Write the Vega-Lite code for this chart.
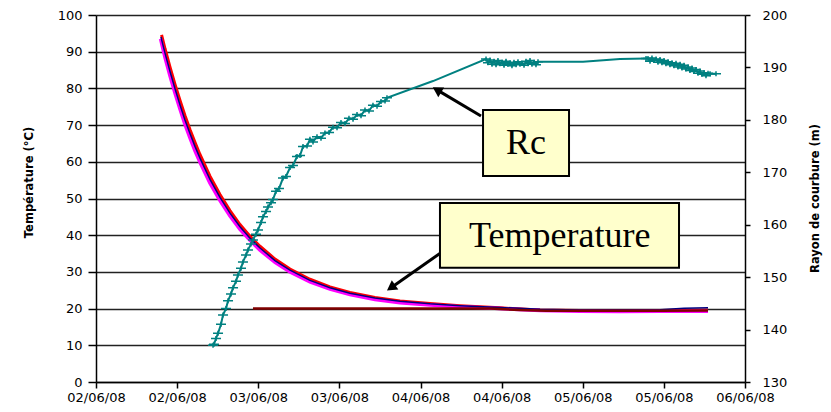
{
  "$schema": "https://vega.github.io/schema/vega-lite/v6.json",
  "width": 649,
  "height": 367,
  "autosize": {"type": "none"},
  "padding": {"left": 96, "top": 15, "right": 86, "bottom": 30},
  "background": "white",
  "config": {
    "view": {"stroke": null},
    "axis": {
      "labelFont": "DejaVu Sans",
      "titleFont": "DejaVu Sans",
      "labelColor": "black",
      "titleColor": "black",
      "domainColor": "black",
      "tickColor": "black",
      "labelFontSize": 13,
      "titleFontSize": 11.5,
      "titleFontWeight": "bold",
      "domainWidth": 1.5,
      "tickWidth": 1.5
    }
  },
  "datasets": {
    "temp": [
      {"s": "red", "h": 9.70, "T": 94.6}, {"s": "red", "h": 10.21, "T": 90.8}, {"s": "red", "h": 10.95, "T": 85.8}, {"s": "red", "h": 11.69, "T": 81.1}, {"s": "red", "h": 12.43, "T": 76.7}, {"s": "red", "h": 13.16, "T": 72.6}, {"s": "red", "h": 13.90, "T": 68.8}, {"s": "red", "h": 14.64, "T": 65.3}, {"s": "red", "h": 15.38, "T": 62.0}, {"s": "red", "h": 16.86, "T": 56.1}, {"s": "red", "h": 18.34, "T": 51.1}, {"s": "red", "h": 19.82, "T": 46.7}, {"s": "red", "h": 21.30, "T": 42.9}, {"s": "red", "h": 22.78, "T": 39.7}, {"s": "red", "h": 24.26, "T": 37.0}, {"s": "red", "h": 26.48, "T": 33.5}, {"s": "red", "h": 28.70, "T": 30.8}, {"s": "red", "h": 31.65, "T": 28.0}, {"s": "red", "h": 34.61, "T": 25.9}, {"s": "red", "h": 37.57, "T": 24.4}, {"s": "red", "h": 41.27, "T": 23.0}, {"s": "red", "h": 44.97, "T": 22.1}, {"s": "red", "h": 49.41, "T": 21.4}, {"s": "red", "h": 53.84, "T": 20.8}, {"s": "red", "h": 59.76, "T": 20.2}, {"s": "red", "h": 65.68, "T": 19.6}, {"s": "red", "h": 71.59, "T": 19.5}, {"s": "red", "h": 77.51, "T": 19.4}, {"s": "red", "h": 83.43, "T": 19.5}, {"s": "red", "h": 90.53, "T": 19.6},
      {"s": "magenta", "h": 9.55, "T": 93.5}, {"s": "magenta", "h": 10.21, "T": 88.4}, {"s": "magenta", "h": 10.95, "T": 83.4}, {"s": "magenta", "h": 11.69, "T": 78.7}, {"s": "magenta", "h": 12.43, "T": 74.3}, {"s": "magenta", "h": 13.16, "T": 70.2}, {"s": "magenta", "h": 13.90, "T": 66.5}, {"s": "magenta", "h": 14.64, "T": 63.0}, {"s": "magenta", "h": 15.38, "T": 59.9}, {"s": "magenta", "h": 16.86, "T": 54.2}, {"s": "magenta", "h": 18.34, "T": 49.4}, {"s": "magenta", "h": 19.82, "T": 45.2}, {"s": "magenta", "h": 21.30, "T": 41.6}, {"s": "magenta", "h": 22.78, "T": 38.6}, {"s": "magenta", "h": 24.26, "T": 35.9}, {"s": "magenta", "h": 26.48, "T": 32.6}, {"s": "magenta", "h": 28.70, "T": 30.0}, {"s": "magenta", "h": 31.65, "T": 27.3}, {"s": "magenta", "h": 34.61, "T": 25.3}, {"s": "magenta", "h": 37.57, "T": 23.8}, {"s": "magenta", "h": 41.27, "T": 22.5}, {"s": "magenta", "h": 44.97, "T": 21.6}, {"s": "magenta", "h": 49.41, "T": 21.0}, {"s": "magenta", "h": 53.84, "T": 20.5}, {"s": "magenta", "h": 59.76, "T": 20.0}, {"s": "magenta", "h": 65.68, "T": 19.5}, {"s": "magenta", "h": 71.59, "T": 19.3}, {"s": "magenta", "h": 77.51, "T": 19.2}, {"s": "magenta", "h": 83.43, "T": 19.3}, {"s": "magenta", "h": 90.53, "T": 19.3},
      {"s": "navy", "h": 9.61, "T": 94.0}, {"s": "navy", "h": 10.21, "T": 89.6}, {"s": "navy", "h": 10.95, "T": 84.6}, {"s": "navy", "h": 11.69, "T": 79.9}, {"s": "navy", "h": 12.43, "T": 75.5}, {"s": "navy", "h": 13.16, "T": 71.4}, {"s": "navy", "h": 13.90, "T": 67.7}, {"s": "navy", "h": 14.64, "T": 64.2}, {"s": "navy", "h": 15.38, "T": 61.0}, {"s": "navy", "h": 16.86, "T": 55.2}, {"s": "navy", "h": 18.34, "T": 50.3}, {"s": "navy", "h": 19.82, "T": 46.0}, {"s": "navy", "h": 21.30, "T": 42.3}, {"s": "navy", "h": 22.78, "T": 39.2}, {"s": "navy", "h": 24.26, "T": 36.5}, {"s": "navy", "h": 26.48, "T": 33.1}, {"s": "navy", "h": 28.70, "T": 30.5}, {"s": "navy", "h": 31.65, "T": 27.7}, {"s": "navy", "h": 34.61, "T": 25.7}, {"s": "navy", "h": 37.57, "T": 24.2}, {"s": "navy", "h": 41.27, "T": 22.9}, {"s": "navy", "h": 44.97, "T": 22.0}, {"s": "navy", "h": 49.41, "T": 21.3}, {"s": "navy", "h": 53.84, "T": 20.8}, {"s": "navy", "h": 59.76, "T": 20.3}, {"s": "navy", "h": 65.68, "T": 19.8}, {"s": "navy", "h": 71.59, "T": 19.6}, {"s": "navy", "h": 77.51, "T": 19.6}, {"s": "navy", "h": 83.43, "T": 19.7}, {"s": "navy", "h": 86.98, "T": 20.1}, {"s": "navy", "h": 90.53, "T": 20.2},
      {"s": "maroon", "h": 23.22, "T": 20.0}, {"s": "maroon", "h": 58.28, "T": 20.0}, {"s": "maroon", "h": 62.72, "T": 19.6}, {"s": "maroon", "h": 66.57, "T": 19.4}, {"s": "maroon", "h": 83.43, "T": 19.4}, {"s": "maroon", "h": 90.53, "T": 19.5}
    ],
    "rc": [
      {"h": 17.31, "Rc": 137.0}, {"h": 17.45, "Rc": 137.2}, {"h": 17.75, "Rc": 138.3}, {"h": 18.05, "Rc": 139.3}, {"h": 18.49, "Rc": 141.0}, {"h": 18.79, "Rc": 142.8}, {"h": 19.23, "Rc": 144.0}, {"h": 19.53, "Rc": 145.5}, {"h": 19.97, "Rc": 146.8}, {"h": 20.27, "Rc": 148.0}, {"h": 20.71, "Rc": 149.2}, {"h": 21.00, "Rc": 150.4}, {"h": 21.45, "Rc": 151.7}, {"h": 21.74, "Rc": 152.9}, {"h": 22.19, "Rc": 154.2}, {"h": 22.48, "Rc": 155.2}, {"h": 22.93, "Rc": 156.3}, {"h": 23.22, "Rc": 157.1}, {"h": 23.67, "Rc": 158.2}, {"h": 23.96, "Rc": 159.0}, {"h": 24.41, "Rc": 160.4}, {"h": 24.70, "Rc": 161.5}, {"h": 25.15, "Rc": 162.5}, {"h": 25.44, "Rc": 163.4}, {"h": 25.89, "Rc": 164.2}, {"h": 26.18, "Rc": 164.8}, {"h": 26.63, "Rc": 166.4}, {"h": 27.07, "Rc": 166.9}, {"h": 27.66, "Rc": 168.9}, {"h": 28.10, "Rc": 169.2}, {"h": 28.70, "Rc": 170.9}, {"h": 29.14, "Rc": 171.3}, {"h": 29.73, "Rc": 173.0}, {"h": 30.18, "Rc": 173.2}, {"h": 30.62, "Rc": 174.9}, {"h": 31.21, "Rc": 175.0}, {"h": 31.65, "Rc": 176.3}, {"h": 32.10, "Rc": 175.8}, {"h": 32.69, "Rc": 176.8}, {"h": 33.28, "Rc": 176.5}, {"h": 33.87, "Rc": 177.5}, {"h": 34.47, "Rc": 177.6}, {"h": 35.06, "Rc": 178.6}, {"h": 35.65, "Rc": 178.5}, {"h": 36.24, "Rc": 179.5}, {"h": 36.83, "Rc": 179.3}, {"h": 37.42, "Rc": 180.3}, {"h": 38.02, "Rc": 180.1}, {"h": 38.61, "Rc": 181.0}, {"h": 39.20, "Rc": 180.8}, {"h": 39.79, "Rc": 181.9}, {"h": 40.38, "Rc": 181.7}, {"h": 40.97, "Rc": 182.8}, {"h": 41.57, "Rc": 182.6}, {"h": 42.16, "Rc": 183.5}, {"h": 42.75, "Rc": 183.6}, {"h": 43.04, "Rc": 184.2},
      {"h": 49.85, "Rc": 187.4},
      {"h": 57.69, "Rc": 191.6}, {"h": 57.98, "Rc": 190.9}, {"h": 58.28, "Rc": 191.4}, {"h": 58.58, "Rc": 190.6}, {"h": 58.87, "Rc": 191.2}, {"h": 59.17, "Rc": 190.5}, {"h": 59.46, "Rc": 191.3}, {"h": 59.76, "Rc": 190.7}, {"h": 60.06, "Rc": 191.0}, {"h": 60.35, "Rc": 190.4}, {"h": 60.65, "Rc": 191.2}, {"h": 60.94, "Rc": 190.6}, {"h": 61.24, "Rc": 190.9}, {"h": 61.53, "Rc": 190.3}, {"h": 61.83, "Rc": 191.0}, {"h": 62.13, "Rc": 190.5}, {"h": 62.42, "Rc": 191.1}, {"h": 62.72, "Rc": 190.6}, {"h": 63.01, "Rc": 190.8}, {"h": 63.31, "Rc": 190.4}, {"h": 63.61, "Rc": 191.2}, {"h": 63.90, "Rc": 190.7}, {"h": 64.20, "Rc": 191.3}, {"h": 64.49, "Rc": 190.6}, {"h": 64.79, "Rc": 191.0}, {"h": 65.08, "Rc": 190.5}, {"h": 65.38, "Rc": 191.1},
      {"h": 70.11, "Rc": 191.1}, {"h": 72.04, "Rc": 191.1}, {"h": 77.51, "Rc": 191.6},
      {"h": 81.36, "Rc": 191.7}, {"h": 81.65, "Rc": 191.7}, {"h": 81.95, "Rc": 191.2}, {"h": 82.24, "Rc": 191.8}, {"h": 82.54, "Rc": 191.3}, {"h": 82.84, "Rc": 191.6}, {"h": 83.13, "Rc": 191.0}, {"h": 83.43, "Rc": 191.5}, {"h": 83.72, "Rc": 190.9}, {"h": 84.02, "Rc": 191.3}, {"h": 84.31, "Rc": 190.7}, {"h": 84.61, "Rc": 191.1}, {"h": 84.91, "Rc": 190.5}, {"h": 85.20, "Rc": 190.9}, {"h": 85.50, "Rc": 190.3}, {"h": 85.79, "Rc": 190.8}, {"h": 86.09, "Rc": 190.1}, {"h": 86.39, "Rc": 190.6}, {"h": 86.68, "Rc": 189.9}, {"h": 86.98, "Rc": 190.4}, {"h": 87.27, "Rc": 189.7}, {"h": 87.57, "Rc": 190.1}, {"h": 87.86, "Rc": 189.4}, {"h": 88.16, "Rc": 189.9}, {"h": 88.46, "Rc": 189.2}, {"h": 88.75, "Rc": 189.6}, {"h": 89.05, "Rc": 188.9}, {"h": 89.34, "Rc": 189.3}, {"h": 89.64, "Rc": 188.7}, {"h": 89.93, "Rc": 189.0}, {"h": 90.23, "Rc": 188.4}, {"h": 90.53, "Rc": 188.9}, {"h": 90.83, "Rc": 188.8}, {"h": 91.71, "Rc": 188.8}
    ],
    "boxes": [
      {"label": "Rc", "h": 57.25, "h2": 69.97, "T": 74.1, "T2": 56.1, "hc": 63.6, "Tc": 65.1},
      {"label": "Temperature", "h": 50.88, "h2": 86.24, "T": 48.8, "T2": 31.1, "hc": 68.6, "Tc": 39.8}
    ],
    "arrows": [
      {"to": "Rc", "h": 56.95, "T": 72.5, "h2": 50.44, "T2": 79.6},
      {"to": "Temperature", "h": 51.62, "T": 36.0, "h2": 43.64, "T2": 25.7}
    ]
  },
  "layer": [
    {
      "layer": [
        {
          "data": {"name": "temp"},
          "transform": [{"filter": "datum.s === 'red'"}],
          "mark": {"type": "line", "color": "#FF0000", "strokeWidth": 3},
          "encoding": {
            "x": {
              "field": "h", "type": "quantitative",
              "scale": {"domain": [0, 96], "nice": false, "zero": false},
              "axis": {
                "values": [0, 12, 24, 36, 48, 60, 72, 84, 96],
                "labelExpr": "timeFormat(time(datetime(2008, 5, 2)) + datum.value * 3600000, '%d/%m/%y')",
                "title": null, "grid": false, "tickSize": 6, "labelPadding": 3,
                "labelOverlap": false, "labelFlush": false
              }
            },
            "y": {
              "field": "T", "type": "quantitative",
              "scale": {"domain": [0, 100], "nice": false},
              "axis": {
                "values": [0, 10, 20, 30, 40, 50, 60, 70, 80, 90, 100],
                "title": "Température (°C)",
                "grid": true, "gridColor": "#222222", "gridWidth": 1.5,
                "tickSize": 8, "labelPadding": 6, "labelOverlap": false,
                "titleAngle": 270, "titleX": -67, "titleY": 167,
                "titleBaseline": "middle", "titleAlign": "center"
              }
            }
          }
        },
        {
          "data": {"name": "temp"},
          "transform": [{"filter": "datum.s === 'magenta'"}],
          "mark": {"type": "line", "color": "#FF00FF", "strokeWidth": 3.5},
          "encoding": {
            "x": {"field": "h", "type": "quantitative", "scale": {"domain": [0, 96], "nice": false, "zero": false}},
            "y": {
              "field": "T", "type": "quantitative", "scale": {"domain": [0, 100], "nice": false},
              "axis": {
                "values": [0, 10, 20, 30, 40, 50, 60, 70, 80, 90, 100],
                "title": "Température (°C)",
                "grid": true, "gridColor": "#222222", "gridWidth": 1.5,
                "tickSize": 8, "labelPadding": 6, "labelOverlap": false,
                "titleAngle": 270, "titleX": -67, "titleY": 167,
                "titleBaseline": "middle", "titleAlign": "center"
              }
            }
          }
        },
        {
          "data": {"name": "temp"},
          "transform": [{"filter": "datum.s === 'navy'"}],
          "mark": {"type": "line", "color": "#000080", "strokeWidth": 1.5},
          "encoding": {
            "x": {"field": "h", "type": "quantitative", "scale": {"domain": [0, 96], "nice": false, "zero": false}},
            "y": {
              "field": "T", "type": "quantitative", "scale": {"domain": [0, 100], "nice": false},
              "axis": {
                "values": [0, 10, 20, 30, 40, 50, 60, 70, 80, 90, 100],
                "title": "Température (°C)",
                "grid": true, "gridColor": "#222222", "gridWidth": 1.5,
                "tickSize": 8, "labelPadding": 6, "labelOverlap": false,
                "titleAngle": 270, "titleX": -67, "titleY": 167,
                "titleBaseline": "middle", "titleAlign": "center"
              }
            }
          }
        },
        {
          "data": {"name": "temp"},
          "transform": [{"filter": "datum.s === 'maroon'"}],
          "mark": {"type": "line", "color": "#800000", "strokeWidth": 2.5},
          "encoding": {
            "x": {"field": "h", "type": "quantitative", "scale": {"domain": [0, 96], "nice": false, "zero": false}},
            "y": {
              "field": "T", "type": "quantitative", "scale": {"domain": [0, 100], "nice": false},
              "axis": {
                "values": [0, 10, 20, 30, 40, 50, 60, 70, 80, 90, 100],
                "title": "Température (°C)",
                "grid": true, "gridColor": "#222222", "gridWidth": 1.5,
                "tickSize": 8, "labelPadding": 6, "labelOverlap": false,
                "titleAngle": 270, "titleX": -67, "titleY": 167,
                "titleBaseline": "middle", "titleAlign": "center"
              }
            }
          }
        },
        {
          "data": {"name": "arrows"},
          "mark": {"type": "rule", "color": "black", "strokeWidth": 3},
          "encoding": {
            "x": {"field": "h", "type": "quantitative", "scale": {"domain": [0, 96], "nice": false, "zero": false}},
            "x2": {"field": "h2"},
            "y": {
              "field": "T", "type": "quantitative", "scale": {"domain": [0, 100], "nice": false},
              "axis": {
                "values": [0, 10, 20, 30, 40, 50, 60, 70, 80, 90, 100],
                "title": "Température (°C)",
                "grid": true, "gridColor": "#222222", "gridWidth": 1.5,
                "tickSize": 8, "labelPadding": 6, "labelOverlap": false,
                "titleAngle": 270, "titleX": -67, "titleY": 167,
                "titleBaseline": "middle", "titleAlign": "center"
              }
            },
            "y2": {"field": "T2"}
          }
        },
        {
          "data": {"name": "arrows"},
          "transform": [{"filter": "datum.to === 'Rc'"}],
          "mark": {"type": "point", "shape": "triangle-up", "filled": true, "color": "black", "opacity": 1, "size": 130, "angle": 301},
          "encoding": {
            "x": {"field": "h2", "type": "quantitative", "scale": {"domain": [0, 96], "nice": false, "zero": false}},
            "y": {
              "field": "T2", "type": "quantitative", "scale": {"domain": [0, 100], "nice": false},
              "axis": {
                "values": [0, 10, 20, 30, 40, 50, 60, 70, 80, 90, 100],
                "title": "Température (°C)",
                "grid": true, "gridColor": "#222222", "gridWidth": 1.5,
                "tickSize": 8, "labelPadding": 6, "labelOverlap": false,
                "titleAngle": 270, "titleX": -67, "titleY": 167,
                "titleBaseline": "middle", "titleAlign": "center"
              }
            }
          }
        },
        {
          "data": {"name": "arrows"},
          "transform": [{"filter": "datum.to === 'Temperature'"}],
          "mark": {"type": "point", "shape": "triangle-up", "filled": true, "color": "black", "opacity": 1, "size": 130, "angle": 235},
          "encoding": {
            "x": {"field": "h2", "type": "quantitative", "scale": {"domain": [0, 96], "nice": false, "zero": false}},
            "y": {
              "field": "T2", "type": "quantitative", "scale": {"domain": [0, 100], "nice": false},
              "axis": {
                "values": [0, 10, 20, 30, 40, 50, 60, 70, 80, 90, 100],
                "title": "Température (°C)",
                "grid": true, "gridColor": "#222222", "gridWidth": 1.5,
                "tickSize": 8, "labelPadding": 6, "labelOverlap": false,
                "titleAngle": 270, "titleX": -67, "titleY": 167,
                "titleBaseline": "middle", "titleAlign": "center"
              }
            }
          }
        },
        {
          "data": {"name": "boxes"},
          "mark": {"type": "rect", "fill": "#FFFFCC", "stroke": "black", "strokeWidth": 2},
          "encoding": {
            "x": {"field": "h", "type": "quantitative", "scale": {"domain": [0, 96], "nice": false, "zero": false}},
            "x2": {"field": "h2"},
            "y": {
              "field": "T", "type": "quantitative", "scale": {"domain": [0, 100], "nice": false},
              "axis": {
                "values": [0, 10, 20, 30, 40, 50, 60, 70, 80, 90, 100],
                "title": "Température (°C)",
                "grid": true, "gridColor": "#222222", "gridWidth": 1.5,
                "tickSize": 8, "labelPadding": 6, "labelOverlap": false,
                "titleAngle": 270, "titleX": -67, "titleY": 167,
                "titleBaseline": "middle", "titleAlign": "center"
              }
            },
            "y2": {"field": "T2"}
          }
        },
        {
          "data": {"name": "boxes"},
          "mark": {"type": "text", "font": "Liberation Serif", "fontSize": 36, "color": "black", "align": "center", "baseline": "middle"},
          "encoding": {
            "x": {"field": "hc", "type": "quantitative", "scale": {"domain": [0, 96], "nice": false, "zero": false}},
            "y": {
              "field": "Tc", "type": "quantitative", "scale": {"domain": [0, 100], "nice": false},
              "axis": {
                "values": [0, 10, 20, 30, 40, 50, 60, 70, 80, 90, 100],
                "title": "Température (°C)",
                "grid": true, "gridColor": "#222222", "gridWidth": 1.5,
                "tickSize": 8, "labelPadding": 6, "labelOverlap": false,
                "titleAngle": 270, "titleX": -67, "titleY": 167,
                "titleBaseline": "middle", "titleAlign": "center"
              }
            },
            "text": {"field": "label"}
          }
        }
      ]
    },
    {
      "data": {"name": "rc"},
      "layer": [
        {
          "mark": {"type": "line", "color": "#008080", "strokeWidth": 2},
          "encoding": {
            "x": {"field": "h", "type": "quantitative", "scale": {"domain": [0, 96], "nice": false, "zero": false}},
            "y": {
              "field": "Rc", "type": "quantitative",
              "scale": {"domain": [130, 200], "nice": false, "zero": false},
              "axis": {
                "orient": "right",
                "values": [130, 140, 150, 160, 170, 180, 190, 200],
                "title": "Rayon de courbure (m)",
                "grid": false, "tickSize": 5, "labelPadding": 12,
                "titleAngle": 270, "titleX": 70, "titleY": 183,
                "titleBaseline": "middle", "titleAlign": "center"
              }
            }
          }
        },
        {
          "transform": [{"filter": "datum.h < 43.5 || (datum.h > 57 && datum.h < 66) || datum.h > 81"}],
          "mark": {"type": "point", "shape": "M-1,0H1M0,-0.5V0.5", "filled": false, "stroke": "#008080", "strokeWidth": 1.5, "size": 100, "opacity": 1},
          "encoding": {
            "x": {"field": "h", "type": "quantitative", "scale": {"domain": [0, 96], "nice": false, "zero": false}},
            "y": {"field": "Rc", "type": "quantitative", "scale": {"domain": [130, 200], "nice": false, "zero": false}}
          }
        }
      ]
    }
  ],
  "resolve": {"scale": {"y": "independent"}}
}
